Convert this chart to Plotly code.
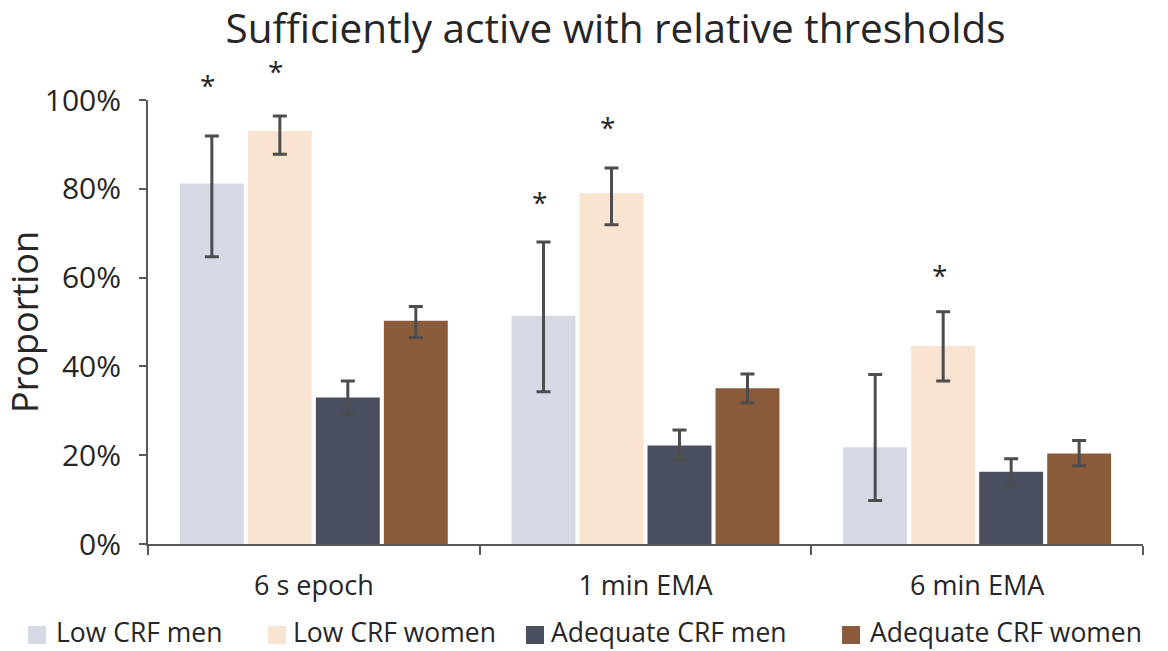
import plotly.graph_objects as go

categories = ["6 s epoch", "1 min EMA", "6 min EMA"]
series_names = ["Low CRF men", "Low CRF women", "Adequate CRF men", "Adequate CRF women"]
colors = ["#D5D9E4", "#F9E3D1", "#4A4F5F", "#8A5C3C"]

low_men = [81.2, 51.4, 21.8]
low_women = [93.0, 79.0, 44.6]
adeq_men = [33.0, 22.2, 16.3]
adeq_women = [50.3, 35.1, 20.4]

low_men_hi = [91.9, 68.0, 38.2]
low_men_lo = [64.7, 34.3, 9.8]
low_women_hi = [96.4, 84.7, 52.3]
low_women_lo = [87.8, 71.9, 36.7]
adeq_men_hi = [36.7, 25.7, 19.2]
adeq_men_lo = [29.3, 18.9, 13.1]
adeq_women_hi = [53.5, 38.3, 23.3]
adeq_women_lo = [46.5, 31.8, 17.6]

# asterisk positions: (category index, series index, y value in %)
star_cat = [0, 0, 1, 1, 2]
star_series = [0, 1, 0, 1, 1]
star_y = [104.5, 107.7, 78.2, 95.0, 61.7]

values = [low_men, low_women, adeq_men, adeq_women]
his = [low_men_hi, low_women_hi, adeq_men_hi, adeq_women_hi]
los = [low_men_lo, low_women_lo, adeq_men_lo, adeq_women_lo]

# figure geometry (pixels)
W, H = 1168, 651
ML, MR, MT, MB = 148, 25, 100, 107
PW, PH = W - ML - MR, H - MT - MB

def px_to_paper_x(px):
    return (px - ML) / PW

def px_to_paper_y(py):
    return (H - MB - py) / PH

bargap = 0.18
fig = go.Figure()
for name, col, v, hi, lo in zip(series_names, colors, values, his, los):
    fig.add_trace(go.Bar(
        name=name, x=categories, y=v, marker=dict(color=col, line=dict(width=0)),
        error_y=dict(type="data", symmetric=False,
                     array=[h - a for h, a in zip(hi, v)],
                     arrayminus=[a - l for a, l in zip(v, lo)],
                     color="#4D4D4D", thickness=3, width=7),
        cliponaxis=False, showlegend=False,
    ))

YMAX = 100.0
slot = (1 - bargap) / 4
for c, s, yv in zip(star_cat, star_series, star_y):
    xpos = c - (1 - bargap) / 2 + slot * (s + 0.5)
    fig.add_annotation(x=xpos, y=yv / YMAX, text="*", showarrow=False,
                       font=dict(size=28, color="#262626", family="Open Sans"),
                       xref="x", yref="paper", yanchor="middle", xshift=-4, yshift=-5)

# legend drawn below the plot (swatch + label per series)
leg_square_x = [28, 268, 526, 842]
leg_text_x = [54, 291, 549, 868]
leg_y = 632
sq = 18
for name, col, sx, tx in zip(series_names, colors, leg_square_x, leg_text_x):
    fig.add_shape(type="rect", xref="paper", yref="paper",
                  x0=px_to_paper_x(sx), x1=px_to_paper_x(sx + sq),
                  y0=px_to_paper_y(leg_y + 3 + sq / 2), y1=px_to_paper_y(leg_y + 3 - sq / 2),
                  fillcolor=col, line=dict(width=0))
    fig.add_annotation(x=px_to_paper_x(tx), y=px_to_paper_y(leg_y), xref="paper", yref="paper",
                       text=name, showarrow=False, xanchor="left", yanchor="middle",
                       font=dict(size=26.5, color="#262626", family="Open Sans"))

fig.update_layout(
    width=W, height=H,
    margin=dict(l=ML, r=MR, t=MT, b=MB, autoexpand=False),
    paper_bgcolor="white", plot_bgcolor="white",
    barmode="group", bargap=bargap, bargroupgap=0.06,
    font=dict(family="Open Sans", color="#404040"),
    title=dict(text="Sufficiently active with relative thresholds",
               x=0.527, xanchor="center", y=0.956, yanchor="middle",
               font=dict(size=40.5, color="#262626", family="Open Sans")),
    showlegend=False,
    xaxis=dict(showline=True, linecolor="#595959", linewidth=2,
               ticks="outside", tickson="boundaries", ticklen=9,
               tickwidth=2, tickcolor="#595959", ticklabelstandoff=17,
               tickfont=dict(size=27, color="#262626"), showgrid=False),
    yaxis=dict(range=[0, YMAX], showline=True, linecolor="#595959", linewidth=2,
               ticks="outside", ticklen=7, tickwidth=2, tickcolor="#595959",
               ticklabelstandoff=12,
               tickvals=[0, 20, 40, 60, 80, 100], ticktext=["0%", "20%", "40%", "60%", "80%", "100%"],
               tickfont=dict(size=30, color="#262626"), showgrid=False, zeroline=False,
               title=dict(text="Proportion", font=dict(size=36, color="#262626"), standoff=10)),
)

fig.write_html("out.html", post_script="document.body.style.margin='0';",
               config={"displayModeBar": False})
